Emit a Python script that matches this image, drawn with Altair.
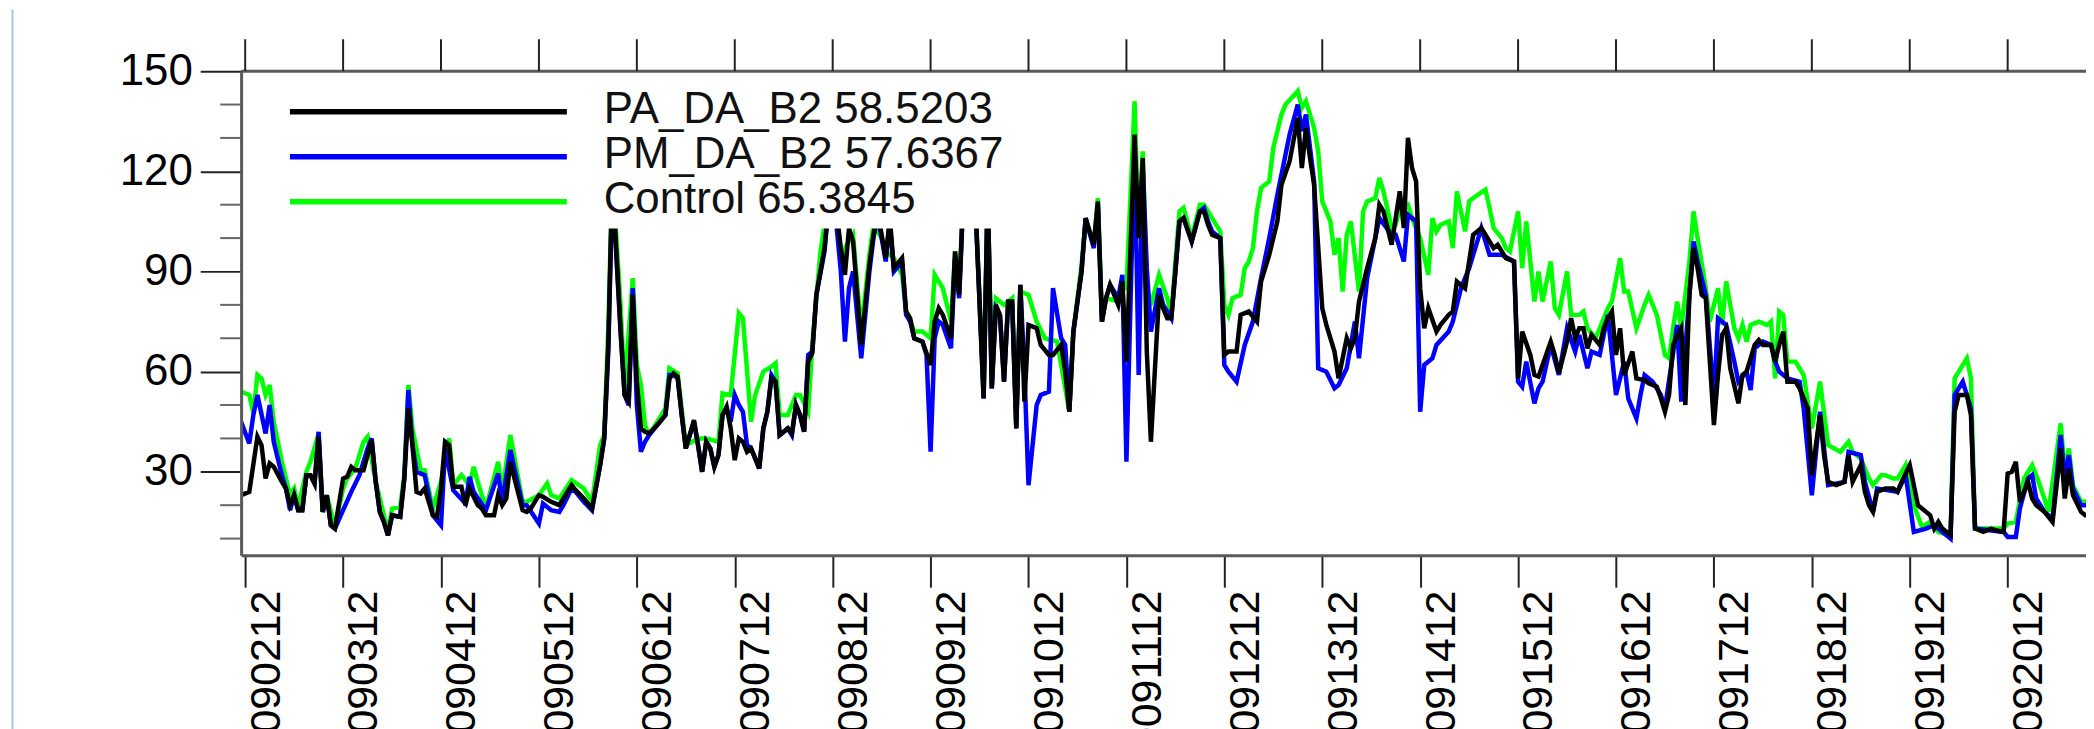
import json
import altair as alt
import pandas as pd

# ---------------- data ----------------
SERIES = ["PA_DA_B2", "PM_DA_B2", "Control"]
SCORES = ["58.5203", "57.6367", "65.3845"]
COLORS = ["#000000", "#0000ff", "#00ff00"]

# tick positions: hours since 2010-09-02 12 UTC, one per day
TICK_HOURS = list(range(0, 433, 24))
TICK_LABELS = ["2010090212", "2010090312", "2010090412", "2010090512", "2010090612",
               "2010090712", "2010090812", "2010090912", "2010091012", "2010091112",
               "2010091212", "2010091312", "2010091412", "2010091512", "2010091612",
               "2010091712", "2010091812", "2010091912", "2010092012"]
Y_TICKS = [30, 60, 90, 120, 150]
Y_MINOR = [10, 20, 40, 50, 70, 80, 100, 110, 130, 140]

# (hour, value) pairs
PA = [(-1,23),(1,24),(3,40.5),(4,38),(5,28),(6,32.5),(7,31.5),(9,27),(10,25),(11,20),(12,23),(13,18.5),(14,18.5),(15,29),(16,29),(17,26.5),(18,40.5),(19,18),(20,23),(21,14),(22,13),(24,28),(25,28.5),(26,31.5),(27,30.5),(29,30.5),(31,39.5),(32,27),(33,18),(34,15),(35,11),(36,17),(38,16.5),(39,28),(40,49),(41,38),(42,24),(43,23.5),(44,25),(46,17),(47,16.5),(48,25),(49,39),(50,38),(51,25.5),(53,25.5),(54,20),(55,25),(57,20),(58,19),(59,17),(61,17),(62,23),(63,20),(64,22),(65,33),(66,28),(68,18.5),(69,18),(70,19),(72,23),(73,22.5),
      (75,21),(77,20),(78,22),(80,26),(81,24.5),(83,22),(85,19),(87,32),(88,40),(89,68),(90,118),(92,73),(93,53),(94,51),(95,83),(96,57),(97,43),(98,42),(99,41.5),(101,44),(103,47),(104,58),(105,59.5),(106,58.5),(107,47),(108,37),(110,45.5),(111,38),(112,30),(113,39),(114,37),(115,31.5),(116,35),(117,47),(118,49.5),(119,43),(120,33.5),(121,40),(122,39),(123,36),(124,37),(126,31),(127,43),(128,48),(129,58),(130,57),(131,41),(133,43),(134,41.5),(135,50),(136,47),(137,42),(138,63),(139,65.5),(140,83),(142,97),(143,110),(144,118),(146,97),(147,89),(148,103),(149,99),
      (151,68),(153,92),(154,101),(155,108),(157,94),(158,106),(159,91),(161,94),(162,78),(163,76),(164,70),(166,69),(168,62),(169,75),(170,79),(171,77),(173,70),(174,96),(175,83),(176,112),(177,118),(179,110),(181,52),(182,115),(183,55),(184,80),(185,77),(186,57),(187,81),(188,81),(189,43),(190,86),(191,51),(192,74),(194,73),(195,68),(197,65),(198,65),(200,68),(201,60),(202,48),(203,72),(205,90),(206,106),(208,98),(209,111),(210,75),(211,82),(212,86),(214,80),(215,87),(216,63),(218,131),(219,100),(220,124),(221,66),(222,39),(224,83),(225,79),(226,76),
      (227,76),(228,90),(229,105),(230,106),(232,99),(234,108),(235,108),(236,104),(237,101),(239,100),(240,65),(241,66),(243,66),(244,77),(246,78),(248,75),(249,87),(251,95),(253,105),(254,116),(256,123),(258,136),(259,121),(260,133),(261,124),(262,116),(264,79),(265,74),(267,66),(268,58),(270,70),(271,67),(272,70),(273,81),(275,91),(277,100),(278,110),(279,108),(281,98),(282,106),(283,114),(284,103),(285,130),(286,121),(287,117),(288,85),(289,73),(290,79),(292,72),(293,74),(295,77),(296,78),(297,87),(299,85),
      (300,93),(301,101),(303,103),(304,101),(306,97),(307,98),(308,96),(309,94),(311,93),(312,58),(313,72),(315,65),(316,59),(317,58.5),(318,62),(320,69),(321,65),(322,59.5),(324,69),(325,76),(326,70),(327,73),(328,73),(329,67),(330,71),(332,68),(333,73),(334,76),(335,78),(336,65),(337,73),(338,59),(340,66),(341,58),(343,57.5),(344,56.5),(346,55.5),(347,52),(348,48),(349,53),(350,68),(352,73),(353,50),(354,83),(355,97),(356,91),(357,83),(358,82),(359,63),(360,44),(361,59),(362,71),(363,73),(364,61),(366,50.5),(367,59),(368,60),(370,68),(371,69.5),(372,68),(374,68),(375,63),
      (376,68),(377,72),(378,57),(380,57),(381,55),(383,49),(384,29),(386,47),(387,35),(388,27),(390,26),(392,27),(393,35),(394,27),(396,32),(397,24),(398,20),(399,18),(400,24),(402,25),(404,25),(405,24),(406,27),(408,32),(409,26),(410,20),(412,18),(413,17),(414,13),(415,15),(416,13),(418,11),(419,48),(420,53),(422,53),(423,47),(424,13),(426,12),(428,13),(429,12.5),(431,12),(432,29.5),(433,30),(434,33),(435,21),(437,27),(438,22),(439,20),(440,19),(441,18),(443,15),(445,37),(446,22),(447,31),(448,23),(450,18),(451,17),(453,18)]

PM = [(-1,45),(1,38.5),(2,47),(3,53),(5,41.5),(6,50),(7,39),(9,29),(10,25),(11,18.5),(12,23),(13,18.5),(14,18.5),(15,29),(16,29),(17,26.5),(18,42),(19,18),(20,23),(21,14),(22,13),(24,18.5),(26,24),(28,29),(30,37),(31,40),(32,27),(33,18),(34,15),(35,11),(36,17),(38,16.5),(39,28),(40,54.5),(41,38),(42,30),(44,29),(46,17),(48,14),(49,37),(51,24.5),(54,20.5),(55,28.5),(56,24),(59,18.5),(62,29.5),(63,21),(65,36.5),(68,20),(69,20),(72,14.5),(73,20.5),
      (75,18.5),(77,18),(78,20),(80,25),(81,24),(83,21),(85,18.5),(87,32),(88,40),(89,66),(90,116),(92,72),(93,53),(94,50),(95,85),(96,50),(97,36),(98,39),(99,41),(101,44),(103,47),(104,59),(105,59),(106,58),(107,47),(108,37),(110,45),(111,38),(112,30),(113,39),(114,37),(115,31.5),(116,35),(117,47),(118,49),(119,45),(120,53),(121,50),(122,48),(123,38),(124,37),(126,31),(127,43),(128,48),(129,59),(130,57),(131,41),(133,43),(134,41),(135,50),(136,47),(137,42),(138,65),(139,66),(140,83),(142,96),(143,110),(144,116),(146,90),(147,69),(148,85),(149,90),
      (151,64),(153,90),(154,100),(155,107),(157,93),(158,105),(159,90),(161,93),(162,77),(163,75),(164,70),(166,69),(167,65),(168,36),(169,70),(170,75),(171,74),(173,67),(174,94),(175,82),(176,111),(177,117),(179,109),(181,52),(182,114),(183,55),(184,79),(185,77),(186,57),(187,80),(188,80),(189,43),(190,86),(191,60),(192,26),(194,50),(195,53),(197,54),(198,85),(200,70),(201,68),(202,48),(203,72),(205,90),(206,106),(208,97),(209,110),(210,75),(211,82),(212,86),(214,82),(215,89),(216,33),(218,128),(219,59),(220,122),(221,91),(222,72),(224,85),(225,80),(226,78),
      (227,76),(228,90),(229,105),(230,106),(232,99),(234,108),(235,109),(236,105),(237,102),(239,100),(240,62),(241,60),(243,57),(245,68),(247,75),(249,88),(251,100),(253,113),(256,131),(258,140),(259,132),(260,137),(262,117),(263,61),(265,60),(267,55),(268,56),(270,61),(272,75),(273,64),(275,88),(278,106),(281,101),(282,101),(284,93),(285,107),(287,105),(288,48),(289,62),(291,64),(292,68),(295,72),(296,75),(298,85),
      (300,91),(303,103),(305,95),(308,95),(311,93),(312,57),(313,55.5),(314,63),(316,50.5),(317,55),(318,57),(320,68),(322,59),(324,73),(326,66),(327,71),(329,61),(330,66),(332,65),(334,77),(336,53),(338,63),(339,52),(341,46),(342,53),(343,59),(345,57),(347,53),(348,49),(351,74),(352,51),(355,99),(356,93),(358,83),(360,52),(361,76),(363,74),(365,63),(366,57),(368,60),(369,54.5),(370,67),(372,69),(374,68),(375,63),
      (376,60),(378,58),(381,57),(382,49),(384,23),(386,48),(388,26),(392,27),(393,36),(396,35),(397,27),(399,18),(400,25),(405,24),(407,29),(409,12),(412,13),(414,14),(417,11),(418,10),(419,53),(421,57),(423,49),(424,13),(431,12),(432,10.5),(434,10.5),(435,19),(437,28),(438,29),(439,22),(441,18),(443,16),(445,41),(446,28),(447,35),(448,25),(450,20),(451,20),(453,20)]

CONTROL = [(-1,54),(1,53),(2,47.5),(3,59),(4,58),(5,53),(6,56),(7,45),(9,33),(10,28),(11,23),(12,25),(13,19.5),(15,30),(16,33),(18,41.5),(19,18),(20,23),(22,13.5),(24,25),(25,28),(27,31),(29,39),(30,40.5),(32,27),(34,17),(35,12),(36,19),(38,19.5),(39,29),(40,56),(41,43),(43,30.5),(44,30.5),(46,19),(48,27),(50,40),(51,26),(53,29),(55,26),(56,31.5),(57,27),(58,23),(59,19),(62,33),(63,24),(65,41),(68,21),(69,21),(72,23),(74,26.5),
           (75,23),(77,22),(80,27.5),(83,25),(85,21),(87,38),(88,41),(89,73),(90,120),(92,80),(93,55),(95,88),(96,62),(97,56),(98,44),(99,41),(103,49),(104,61),(106,59.5),(108,38),(111,40),(113,40),(116,39),(117,53.5),(119,53),(121,77.5),(122,76),(124,45),(125,53),(127,60),(129,61.5),(130,62.5),(131,47),(133,47),(135,53),(136,53),(138,48),(139,68),(141,96),(142,104),(144,120),(146,93),(147,97),(149,101),
           (151,72),(153,95),(154,104),(156,100),(157,96),(159,94),(161,89),(162,78),(164,72),(166,72),(168,70),(169,89),(171,85),(173,75),(174,96),(175,85),(176,112),(179,110),(181,54),(182,115),(183,56),(184,82),(186,80),(188,82),(189,44),(190,84),(192,83),(194,75),(196,70),(199,69),(200,62),(202,48),(203,72),(205,92),(206,105),(208,98),(209,112),(210,76),(211,82),(214,81),(215,86),(216,85),(218,141),(219,100),(220,126),(221,85),(222,80),(224,89),(226,82),
           (227,77),(228,93),(229,108),(230,109),(232,100),(234,110),(235,110),(237,106),(239,102),(240,80),(241,77),(242,82),(244,83),(245,91),(246,93),(247,97),(248,108),(249,115),(251,117),(252,127),(254,137),(255,140),(258,144),(259,139),(260,141),(262,133),(263,126),(264,111),(266,105),(267,95),(268,100),(269,84),(270,101),(271,105),(273,84),(274,108),(275,111),(277,112),(278,118),(279,114),(281,103),(282,104),(283,109),(285,110),(286,106),(288,100),(290,89),(291,106),(292,102),(293,104),(295,105),(296,97),(297,114),(299,102),
           (300,111),(301,112),(304,114.5),(305,109),(306,103),(308,100),(309,97),(310,96),(312,108),(313,91),(314,105),(316,81),(317,90),(318,81),(320,93),(321,79),(322,77),(324,90),(325,77),(327,77),(328,78),(329,73),(331,70),(332,73),(334,79),(335,81),(337,94),(338,84),(339,84),(341,73),(343,80),(344,83),(346,77),(348,65),(349,64),(350,73),(351,81),(352,73),(354,93),(355,108),(356,100),(358,85),(359,75),(361,85),(362,74),(363,87),(365,73),(366,70),(367,74),(368,69),(369,74),(371,75),(373,74),(374,75),(375,58),
           (376,78),(377,77),(378,63),(380,63),(382,59),(384,43),(386,57),(388,38),(391,36),(393,39),(394,36),(396,34),(398,28),(399,26),(401,29),(402,29),(404,28),(405,28),(407,32),(409,20),(411,13.5),(413,15),(415,12),(418,11),(419,58),(422,64),(423,58),(424,13),(431,13),(432,14.5),(434,15),(436,28),(438,32),(439,29),(441,22),(442,18),(445,44.5),(446,30),(447,37),(448,26),(450,21),(451,21),(453,21)]

# ---------------- layout (pixels) ----------------
W, H = 1852, 486
PAD = {"left": 234, "top": 62, "right": 0, "bottom": 173}
X_DOMAIN = [-1, 451.2]
Y_DOMAIN = [5, 150]
FONT = "Liberation Sans"
AXIS_GRAY = "#5a5a5a"
TICK_DARK = "#222222"

rows = []
for name, pts in zip(SERIES, [PA, PM, CONTROL]):
    for h, v in pts:
        rows.append({"series": name, "hour": h, "value": v})
df = pd.DataFrame(rows)

xscale = alt.Scale(domain=X_DOMAIN, nice=False, zero=False)
yscale = alt.Scale(domain=Y_DOMAIN, nice=False, zero=False)
label_expr = json.dumps(TICK_LABELS) + "[round(datum.value / 24)]"

x_axis = alt.X("hour:Q", scale=xscale, title=None, axis=alt.Axis(
    values=TICK_HOURS, labelExpr=label_expr, labelAngle=270,
    labelAlign="right", labelBaseline="top", labelFont=FONT, labelFontSize=43,
    labelColor="#000000", labelPadding=3, labelFlush=False, labelOverlap=False,
    labelLimit=1000, tickSize=32, tickWidth=2, tickColor=TICK_DARK,
    domainColor=AXIS_GRAY, domainWidth=3, grid=False, zindex=1))
y_axis = alt.Y("value:Q", scale=yscale, title=None, axis=alt.Axis(
    values=Y_TICKS, tickSize=41, tickWidth=2, tickColor=TICK_DARK,
    domainColor=AXIS_GRAY, domainWidth=3, labelFont=FONT, labelFontSize=44,
    labelColor="#000000", labelPadding=8, labelFlush=False, labelLimit=1000,
    grid=False, zindex=1))
# other layers share the same scales (their axes merge into the ones above)
x_plain = alt.X("hour:Q", scale=xscale)
y_plain = alt.Y("value:Q", scale=yscale)

def series_line(idx, x_enc, y_enc):
    return alt.Chart(df).transform_filter(
        alt.datum.series == SERIES[idx]
    ).mark_line(color=COLORS[idx], strokeWidth=4.5, clip=True).encode(
        x=x_enc, y=y_enc, order="hour:Q")

black = series_line(0, x_axis, y_axis)
blue = series_line(1, x_plain, y_plain)
green = series_line(2, x_plain, y_plain)

one = pd.DataFrame({"a": [0]})

# top frame: domain line and outward ticks at the same daily positions
top_line = alt.Chart(one).mark_rule(color=AXIS_GRAY, strokeWidth=3).encode(
    x=alt.value(0), x2=alt.value(W), y=alt.value(0))
top_ticks = alt.Chart(pd.DataFrame({"hour": TICK_HOURS})).mark_rule(
    color=TICK_DARK, strokeWidth=2).encode(
    x=x_plain, y=alt.value(-32), y2=alt.value(0))

# white legend box covering the upper left of the plot
legend_box = alt.Chart(one).mark_rect(color="white").encode(
    x=alt.value(48), x2=alt.value(796), y=alt.value(1.5), y2=alt.value(158))

legend_layers = []
for i in range(3):
    ly = 40.7 + 45.2 * i
    legend_layers.append(alt.Chart(one).mark_rule(color=COLORS[i], strokeWidth=5.5).encode(
        x=alt.value(49), x2=alt.value(327), y=alt.value(ly)))
    legend_layers.append(alt.Chart(one).mark_text(
        text=SERIES[i] + " " + SCORES[i], align="left", baseline="alphabetic",
        font=FONT, fontSize=44, color="#111111").encode(
        x=alt.value(364), y=alt.value(ly + 11.5)))

minor = alt.Chart(pd.DataFrame({"value": Y_MINOR})).mark_rule(
    color="#666666", strokeWidth=2).encode(
    y=y_plain, x=alt.value(-21), x2=alt.value(0))

edge = alt.Chart(one).mark_rule(color="#a9c4ec", strokeWidth=2).encode(
    x=alt.value(-229.5), y=alt.value(-62), y2=alt.value(700))

chart = alt.layer(green, blue, black, legend_box, *legend_layers,
                  top_line, top_ticks, minor, edge).properties(
    width=W, height=H,
    autosize=alt.AutoSizeParams(type="none"),
    padding=PAD,
    background="white",
).configure_view(strokeWidth=0)

chart.save("out.html", embed_options={"renderer": "svg", "actions": False})
